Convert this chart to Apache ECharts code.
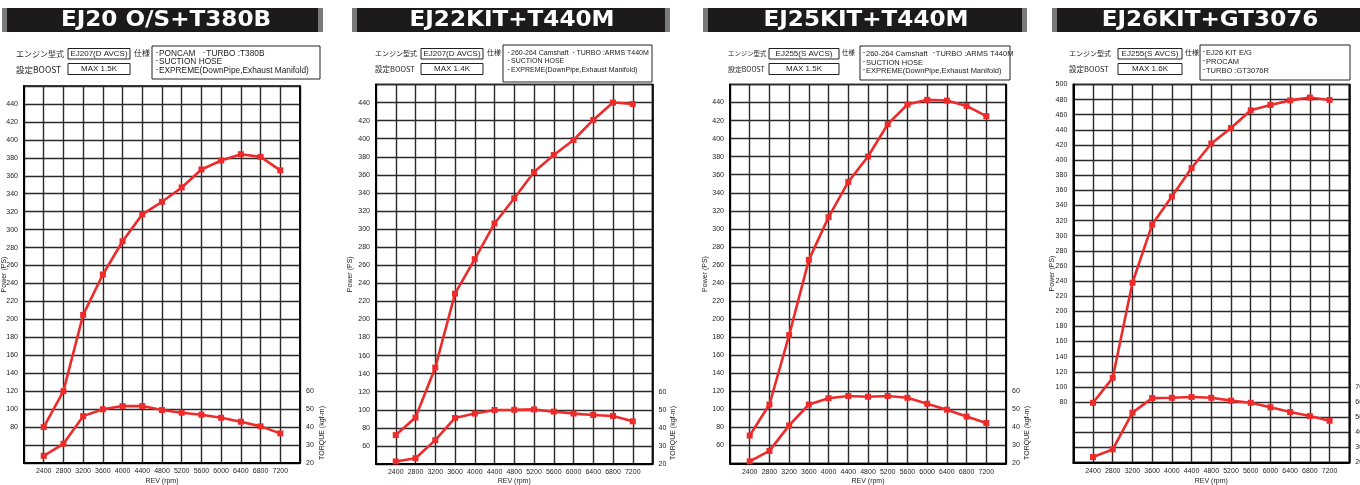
<!DOCTYPE html>
<html><head><meta charset="utf-8">
<script src="https://cdn.jsdelivr.net/npm/echarts@6/dist/echarts.min.js"></script>
<style>html,body{margin:0;padding:0;background:#fff}#c{width:1360px;height:485px}</style>
</head><body><div id="c"></div>
<script>
const revs = [2400, 2800, 3200, 3600, 4000, 4400, 4800, 5200, 5600, 6000, 6400, 6800, 7200];
const titles = ['EJ20 O/S+T380B', 'EJ22KIT+T440M', 'EJ25KIT+T440M', 'EJ26KIT+GT3076'];
const engineTypes = ['EJ207(D AVCS)', 'EJ207(D AVCS)', 'EJ255(S AVCS)', 'EJ255(S AVCS)'];
const boosts = ['MAX 1.5K', 'MAX 1.4K', 'MAX 1.5K', 'MAX 1.6K'];
const specs1 = ['･PONCAM   ･TURBO :T380B', '･SUCTION HOSE', '･EXPREME(DownPipe,Exhaust Manifold)'];
const specs2 = ['･260-264 Camshaft  ･TURBO :ARMS T440M', '･SUCTION HOSE', '･EXPREME(DownPipe,Exhaust Manifold)'];
const specs3 = ['･260-264 Camshaft  ･TURBO :ARMS T440M', '･SUCTION HOSE', '･EXPREME(DownPipe,Exhaust Manifold)'];
const specs4 = ['･EJ26 KIT E/G', '･PROCAM', '･TURBO :GT3076R'];

const power1 = [80, 120, 205, 250, 287, 317, 331, 347, 367, 377, 384, 381, 366];
const torque1 = [24, 30.7, 46.1, 49.9, 51.7, 51.7, 49.5, 48, 46.9, 45.2, 43, 40.4, 36.5];
const power2 = [72, 91.4, 146.7, 228.6, 266.7, 306.2, 334.1, 363.2, 382, 398.6, 420.8, 440, 438.5];
const torque2 = [21.4, 23.2, 33.2, 45.5, 47.9, 49.9, 50, 50.2, 49, 47.9, 47.1, 46.6, 43.6];
const power3 = [71, 105.4, 182.3, 265.7, 313, 352.1, 380.2, 416, 437.8, 443, 442.2, 436.3, 425];
const torque3 = [21.2, 27, 41.1, 52.7, 56.2, 57.4, 57, 57.4, 56.4, 53.1, 49.8, 46, 42.4];
const power4 = [79, 112, 237.8, 314.7, 351.8, 389.5, 422, 442.5, 465.9, 473, 479, 482.7, 479.6];
const torque4 = [23.6, 28.7, 53, 62.6, 62.8, 63.3, 62.8, 60.9, 59.5, 56.5, 53.4, 50.7, 47.6];

const powers = [power1, power2, power3, power4];
const torques = [torque1, torque2, torque3, torque4];
const specs = [specs1, specs2, specs3, specs4];

// layout (pixels)
const grids = [
  {left: 24, top: 86, width: 276, height: 377},
  {left: 376, top: 84.5, width: 276.5, height: 379.5},
  {left: 730, top: 84.5, width: 276, height: 379},
  {left: 1073.3, top: 84.5, width: 276, height: 378}
];
const powerAxes = [
  {min: 40, max: 460, lo: 80, hi: 440},
  {min: 40, max: 460, lo: 60, hi: 440},
  {min: 40, max: 460, lo: 60, hi: 440},
  {min: 0, max: 500, lo: 80, hi: 500}
];
const torqueAxes = [
  {min: 20, max: 230, hi: 60},
  {min: 20, max: 230, hi: 60},
  {min: 20, max: 230, hi: 60},
  {min: 20, max: 270, hi: 70}
];
const banners = [[2, 323, 166], [352, 670, 512], [703, 1027, 866], [1052, 1368, 1210]];
const info = [
  {lx: 16, lfs: 8, bx: 68, bw: 62, sx: 134, big: [152, 46, 168, 33], tx: 155, tfs: 8.3, ty: [53.5, 62, 71]},
  {lx: 375, lfs: 7, bx: 421, bw: 62, sx: 487, big: [503, 45, 149, 37], tx: 507, tfs: 7, ty: [53.5, 61.5, 70]},
  {lx: 728, lfs: 6.4, bx: 769, bw: 70, sx: 842, big: [860, 46, 150, 34], tx: 862, tfs: 7.5, ty: [54, 62.5, 71]},
  {lx: 1069, lfs: 7, bx: 1118, bw: 64, sx: 1185, big: [1200, 45, 150, 35], tx: 1202, tfs: 7.5, ty: [53, 61.5, 70.5]}
];
const torqueNameX = [322, 673, 1027, 1377];
const powerNameX = [4, 350, 705, 1052];

const RED = '#ee2b2b';
const LINE = '#2a2a2a';
const narrow = '"Liberation Sans Narrow", "Liberation Sans", sans-serif';
const jp = '"Noto Sans CJK JP", sans-serif';

const option = {
  animation: false,
  backgroundColor: '#fff',
  grid: [], xAxis: [], yAxis: [], series: [], graphic: []
};

for (let i = 0; i < 4; i++) {
  const g = grids[i];
  option.grid.push({left: g.left, top: g.top, width: g.width, height: g.height,
    outerBoundsMode: 'none', containLabel: false,
    show: true, borderColor: '#000', borderWidth: 1.5, backgroundColor: '#fff'});
  option.xAxis.push({
    type: 'value', gridIndex: i, min: 2000, max: 7600, interval: 400,
    axisLine: {show: true, lineStyle: {color: '#000', width: 2}},
    axisTick: {show: false},
    axisLabel: {fontSize: 7, color: '#222', margin: 5, fontFamily: 'Liberation Sans', showMinLabel: false, showMaxLabel: false,
      formatter: v => String(v)},
    splitLine: {show: true, lineStyle: {color: LINE, width: 1.4}}
  });
  const pa = powerAxes[i];
  option.yAxis.push({
    type: 'value', gridIndex: i, min: pa.min, max: pa.max, interval: 20, position: 'left',
    axisLine: {show: true, lineStyle: {color: '#000', width: 2}},
    axisTick: {show: false},
    axisLabel: {fontSize: 7, color: '#222', margin: 6, fontFamily: 'Liberation Sans',
      formatter: v => (v >= pa.lo && v <= pa.hi) ? String(v) : ''},
    splitLine: {show: true, lineStyle: {color: LINE, width: 1.4}}
  });
  const ta = torqueAxes[i];
  option.yAxis.push({
    type: 'value', gridIndex: i, min: ta.min, max: ta.max, interval: 10, position: 'right',
    axisLine: {show: true, lineStyle: {color: '#000', width: 1.5}},
    axisTick: {show: false},
    axisLabel: {fontSize: 7, color: '#222', margin: 6, fontFamily: 'Liberation Sans',
      formatter: v => (v <= ta.hi) ? String(v) : ''},
    splitLine: {show: false}
  });
  option.series.push({
    type: 'line', xAxisIndex: i, yAxisIndex: 2 * i,
    data: revs.map((r, k) => [r, powers[i][k]]),
    symbol: 'rect', symbolSize: 6, lineStyle: {color: RED, width: 2.6}, itemStyle: {color: RED}, z: 5
  });
  option.series.push({
    type: 'line', xAxisIndex: i, yAxisIndex: 2 * i + 1,
    data: revs.map((r, k) => [r, torques[i][k]]),
    symbol: 'rect', symbolSize: 6, lineStyle: {color: RED, width: 2.6}, itemStyle: {color: RED}, z: 5
  });

  // banner
  const b = banners[i];
  option.graphic.push({type: 'rect', shape: {x: b[0], y: 8, width: b[1] - b[0], height: 24}, style: {fill: '#7a7a7a'}, silent: true});
  option.graphic.push({type: 'rect', shape: {x: b[0] + 5, y: 8, width: b[1] - b[0] - 10, height: 24}, style: {fill: '#1c1a1a'}, silent: true});
  option.graphic.push({type: 'text', x: b[2], y: 21, scaleX: 1.1, style: {text: titles[i], fill: '#fff', fontSize: 21, fontWeight: 'bold',
    fontFamily: '"DejaVu Sans", sans-serif', align: 'center', verticalAlign: 'middle'}, silent: true});

  // info table
  const f = info[i];
  option.graphic.push({type: 'text', x: f.lx, y: 53.5, style: {text: 'エンジン型式', fill: '#222', fontSize: f.lfs, fontFamily: jp, verticalAlign: 'middle'}});
  option.graphic.push({type: 'text', x: f.lx, y: 69.5, style: {text: '設定BOOST', fill: '#222', fontSize: f.lfs + 0.5, fontFamily: jp, verticalAlign: 'middle'}});
  option.graphic.push({type: 'rect', shape: {x: f.bx, y: 48.5, width: f.bw, height: 10.5}, style: {fill: '#fff', stroke: '#222', lineWidth: 1}});
  option.graphic.push({type: 'text', x: f.bx + f.bw / 2, y: 53.8, style: {text: engineTypes[i], fill: '#222', fontSize: 8, fontFamily: narrow, align: 'center', verticalAlign: 'middle'}});
  option.graphic.push({type: 'rect', shape: {x: f.bx, y: 63.5, width: f.bw, height: 11}, style: {fill: '#fff', stroke: '#222', lineWidth: 1}});
  option.graphic.push({type: 'text', x: f.bx + f.bw / 2, y: 69, style: {text: boosts[i], fill: '#222', fontSize: 8, fontFamily: narrow, align: 'center', verticalAlign: 'middle'}});
  option.graphic.push({type: 'text', x: f.sx, y: 52.5, style: {text: '仕様', fill: '#222', fontSize: f.lfs, fontFamily: jp, verticalAlign: 'middle'}});
  option.graphic.push({type: 'rect', shape: {x: f.big[0], y: f.big[1], width: f.big[2], height: f.big[3]}, style: {fill: '#fff', stroke: '#222', lineWidth: 1}});
  for (let k = 0; k < 3; k++) {
    option.graphic.push({type: 'text', x: f.tx, y: f.ty[k], style: {text: specs[i][k], fill: '#222', fontSize: f.tfs, fontFamily: narrow, verticalAlign: 'middle'}});
  }
  // axis names
  option.graphic.push({type: 'text', x: torqueNameX[i], y: 433, rotation: Math.PI / 2,
    style: {text: 'TORQUE (kgf-m)', fill: '#222', fontSize: 7, fontFamily: 'Liberation Sans', align: 'center', verticalAlign: 'middle'}});
  option.graphic.push({type: 'text', x: powerNameX[i], y: g.top + g.height / 2, rotation: Math.PI / 2,
    style: {text: 'Power (PS)', fill: '#222', fontSize: 7, fontFamily: 'Liberation Sans', align: 'center', verticalAlign: 'middle'}});
  option.graphic.push({type: 'text', x: g.left + g.width / 2, y: 481,
    style: {text: 'REV (rpm)', fill: '#222', fontSize: 7, fontFamily: 'Liberation Sans', align: 'center', verticalAlign: 'middle'}});
}

const chart = echarts.init(document.getElementById('c'), null, {renderer: 'canvas'});
chart.setOption(option);
</script>
</body></html>
